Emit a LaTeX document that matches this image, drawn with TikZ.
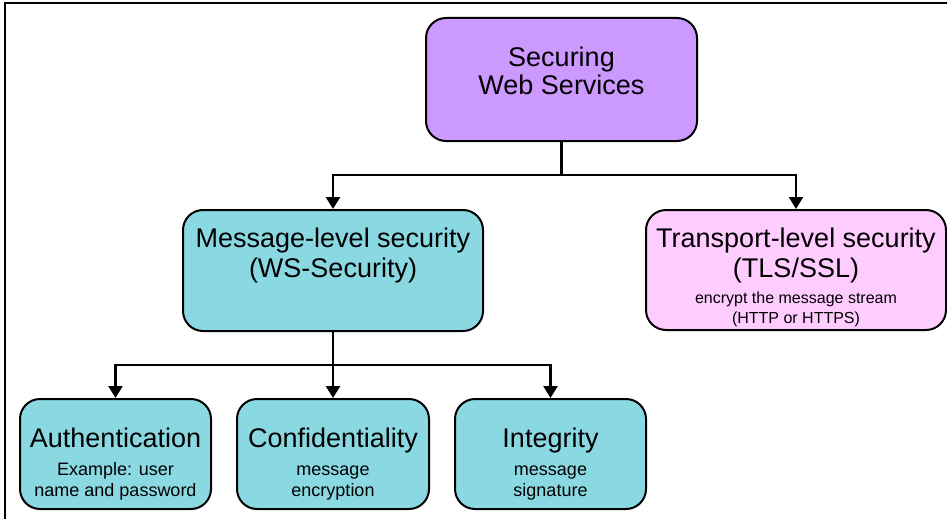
\documentclass[tikz,border=0pt]{standalone}
\usepackage{fontspec}
\setmainfont{Liberation Sans}
\usetikzlibrary{arrows.meta}
\definecolor{topfill}{RGB}{204,153,255}
\definecolor{msgfill}{RGB}{138,216,226}
\definecolor{tlsfill}{RGB}{255,204,255}
\newcommand{\subfont}{\fontsize{18}{21}\selectfont}
\newcommand{\tlsfont}{\fontsize{16}{20}\selectfont}

\begin{document}
\begin{tikzpicture}[x=1pt, y=-1pt,
    box/.style={draw=black, line width=2pt, rounded corners=20pt, inner sep=2pt,
                align=center, font=\fontsize{27}{30}\selectfont},
    link/.style={line width=2.5pt},
    arr/.style={link, -{Triangle[length=12pt,width=14pt]}}]
    \useasboundingbox (0,0) rectangle (947,519);
    % frame
    \draw[line width=1.2pt] (5,519) -- (5,3) -- (947,3);
    % top box
    \node[box, fill=topfill, minimum width=271pt, minimum height=123pt,
          text depth=17pt] (top) at (561.5,79.5) {Securing\\[-2pt]Web Services};
    % second level
    \node[box, fill=msgfill, minimum width=300pt, minimum height=121pt,
          text depth=35pt] (msg) at (333,270.5)
          {Message-level security\\(WS-Security)};
    \node[box, fill=tlsfill, minimum width=300pt, minimum height=120pt,
          text height=110pt] (tls) at (796,270)
          {Transport-level security\\(TLS/SSL)\\[-4pt]
           \tlsfont encrypt the message stream\\[-10pt]\tlsfont (HTTP or HTTPS)};
    % third level
    \node[box, fill=msgfill, minimum width=191pt, minimum height=110pt,
          text height=88pt] (auth) at (115.5,454)
          {Authentication\\[-2pt]\subfont Example: user\\[-9pt]\subfont name and password};
    \node[box, fill=msgfill, minimum width=192pt, minimum height=110pt,
          text height=88pt] (conf) at (333,454)
          {Confidentiality\\[-2pt]\subfont message\\[-9pt]\subfont encryption};
    \node[box, fill=msgfill, minimum width=191pt, minimum height=110pt,
          text height=88pt] (integ) at (550.5,454)
          {Integrity\\[-2pt]\subfont message\\[-9pt]\subfont signature};
    % connectors
    \coordinate (split1) at (561.5,175);
    \coordinate (split2) at (333,365);
    \draw[link] (top.south) -- (split1);
    \draw[arr] (split1) -| (msg.north);
    \draw[arr] (split1) -| (tls.north);
    \draw[link] (msg.south) -- (split2);
    \draw[arr] (split2) -| (auth.north);
    \draw[arr] (split2) -- (conf.north);
    \draw[arr] (split2) -| (integ.north);
\end{tikzpicture}
\end{document}
